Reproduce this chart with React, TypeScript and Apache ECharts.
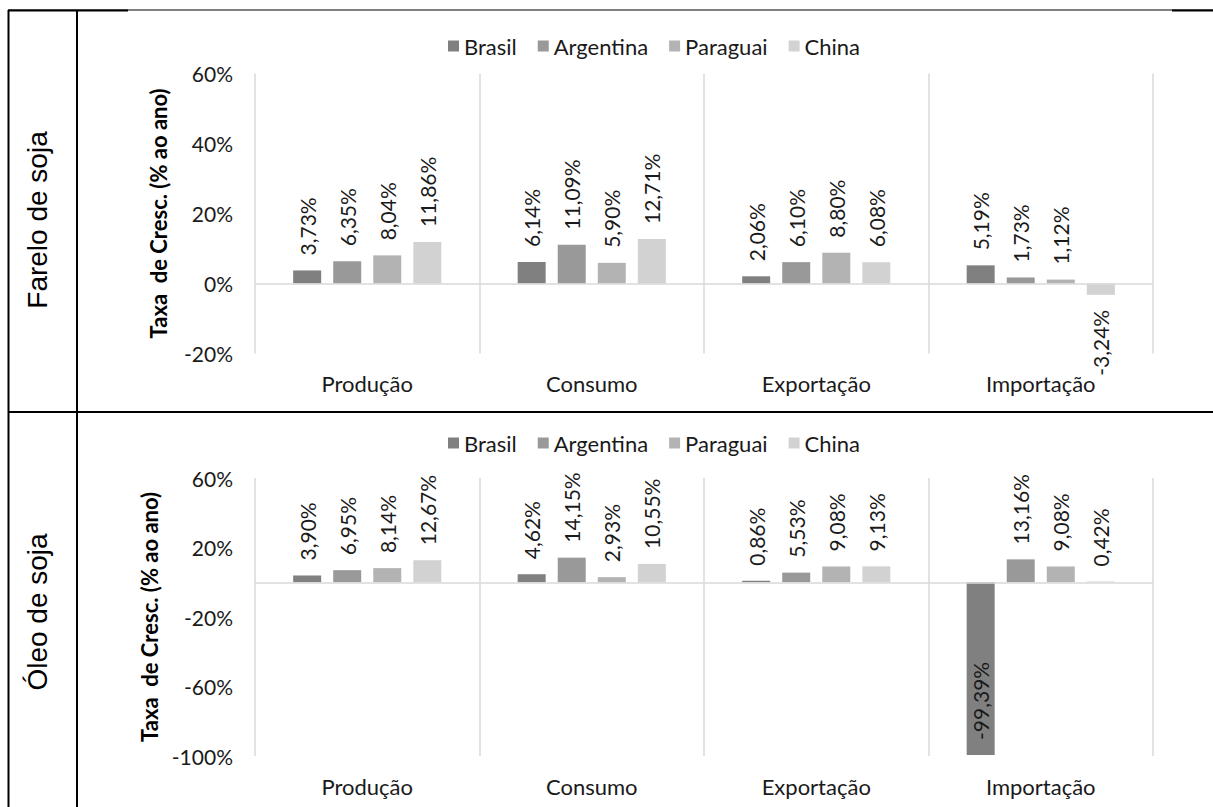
import React, { useEffect, useRef } from "react";
import * as echarts from "echarts";

const categories = ["Produção", "Consumo", "Exportação", "Importação"];
const countries = ["Brasil", "Argentina", "Paraguai", "China"];
const colors = ["#808080", "#999999", "#b3b3b3", "#d2d2d2"];

// Farelo de soja
const fareloBrasil = [3.73, 6.14, 2.06, 5.19];
const fareloArgentina = [6.35, 11.09, 6.1, 1.73];
const fareloParaguai = [8.04, 5.9, 8.8, 1.12];
const fareloChina = [11.86, 12.71, 6.08, -3.24];

// Óleo de soja
const oleoBrasil = [3.9, 4.62, 0.86, -99.39];
const oleoArgentina = [6.95, 14.15, 5.53, 13.16];
const oleoParaguai = [8.14, 2.93, 9.08, 9.08];
const oleoChina = [12.67, 10.55, 9.13, 0.42];

const fareloTicks = [60, 40, 20, 0, -20];
const oleoTicks = [60, 20, -20, -60, -100];

const rowLabels = ["Farelo de soja", "Óleo de soja"];
const axisName = "Taxa  de Cresc. (% ao ano)";

const FONT = "Lato";
const TXT = "#1a1a1a";
const GRIDC = "#d9d9d9";

const fmt = (v: number) => v.toFixed(2).replace(".", ",") + "%";

function labelFor(v: number) {
  if (v < 0 && v < -50) {
    return { position: "insideBottom", align: "left", distance: 15 };
  }
  if (v < 0) {
    return { position: "bottom", align: "right", distance: 15 };
  }
  return { position: "top", align: "left", distance: 15 };
}

function makeSeries(values: number[][], gridIdx: number) {
  return values.map((vals, i) => ({
    type: "bar",
    name: countries[i],
    xAxisIndex: gridIdx,
    yAxisIndex: gridIdx,
    barGap: "43%",
    barCategoryGap: "34%",
    itemStyle: { color: colors[i] },
    data: vals.map((v) => ({
      value: v,
      label: {
        show: true,
        rotate: 90,
        verticalAlign: "middle",
        formatter: fmt(v),
        fontFamily: FONT,
        fontSize: 21,
        color: TXT,
        ...labelFor(v),
      },
    })),
    markLine:
      i === 0
        ? {
            silent: true,
            symbol: ["none", "none"],
            label: { show: false },
            lineStyle: { color: GRIDC, width: 1.5, type: "solid" },
            data: [{ yAxis: 0 }],
          }
        : undefined,
  }));
}

export default function App() {
  const ref = useRef<HTMLDivElement>(null);
  useEffect(() => {
    if (!ref.current) return;
    const chart = echarts.init(ref.current, undefined, { renderer: "svg" });
    const xAxisBase = (gi: number) => ({
      type: "category",
      gridIndex: gi,
      data: categories,
      axisLine: { show: false, onZero: false },
      axisTick: { show: false },
      axisLabel: { fontFamily: FONT, fontSize: 22, color: TXT, margin: 19 },
      splitLine: { show: true, lineStyle: { color: GRIDC, width: 1.5 } },
    });
    const yAxisBase = (gi: number, min: number, max: number, ticks: number[]) => ({
      type: "value",
      gridIndex: gi,
      min,
      max,
      interval: 20,
      axisLine: { show: false },
      axisTick: { show: false },
      splitLine: { show: false },
      axisLabel: {
        fontFamily: FONT,
        fontSize: 21,
        color: TXT,
        margin: 22,
        formatter: (v: number) => (ticks.includes(v) ? v + "%" : ""),
      },
      name: axisName,
      nameLocation: "middle",
      nameRotate: 90,
      nameGap: 86,
      nameTextStyle: { fontFamily: FONT, fontSize: 22, fontWeight: "bold", color: "#000" },
    });
    const legendBase = (top: number) => ({
      top,
      left: 443,
      data: countries,
      icon: "rect",
      itemWidth: 11,
      itemHeight: 11,
      itemGap: 21,
      textStyle: { fontFamily: FONT, fontSize: 22, color: TXT },
    });
    chart.setOption({
      animation: false,
      backgroundColor: "#ffffff",
      legend: [legendBase(30), legendBase(427)],
      grid: [
        { left: 255, width: 898, top: 73.5, height: 280 },
        { left: 255, width: 898, top: 478, height: 278 },
      ],
      xAxis: [xAxisBase(0), xAxisBase(1)],
      yAxis: [yAxisBase(0, -20, 60, fareloTicks), yAxisBase(1, -100, 60, oleoTicks)],
      series: [
        ...makeSeries([fareloBrasil, fareloArgentina, fareloParaguai, fareloChina], 0),
        ...makeSeries([oleoBrasil, oleoArgentina, oleoParaguai, oleoChina], 1),
      ],
      graphic: [
        { type: "line", shape: { x1: 8, y1: 10, x2: 1213, y2: 10 }, style: { stroke: "#000", lineWidth: 1.2 } },
        { type: "line", shape: { x1: 8, y1: 10.5, x2: 128, y2: 10.5 }, style: { stroke: "#000", lineWidth: 2 } },
        { type: "line", shape: { x1: 1172, y1: 10.5, x2: 1213, y2: 10.5 }, style: { stroke: "#000", lineWidth: 2 } },
        { type: "line", shape: { x1: 8, y1: 412, x2: 1213, y2: 412 }, style: { stroke: "#000", lineWidth: 2 } },
        { type: "line", shape: { x1: 8.5, y1: 10, x2: 8.5, y2: 807 }, style: { stroke: "#000", lineWidth: 2 } },
        { type: "line", shape: { x1: 77, y1: 10, x2: 77, y2: 807 }, style: { stroke: "#000", lineWidth: 2 } },
        {
          type: "text",
          x: 37,
          y: 220,
          rotation: Math.PI / 2,
          style: {
            text: rowLabels[0],
            fontFamily: "Liberation Sans",
            fontSize: 28,
            fill: "#000",
            align: "center",
            verticalAlign: "middle",
          },
        },
        {
          type: "text",
          x: 37,
          y: 612,
          rotation: Math.PI / 2,
          style: {
            text: rowLabels[1],
            fontFamily: "Liberation Sans",
            fontSize: 28,
            fill: "#000",
            align: "center",
            verticalAlign: "middle",
          },
        },
      ],
    });
    return () => chart.dispose();
  }, []);
  return (
    <div
      ref={ref}
      style={{ position: "absolute", left: 0, top: 0, width: 1213, height: 807 }}
    />
  );
}
